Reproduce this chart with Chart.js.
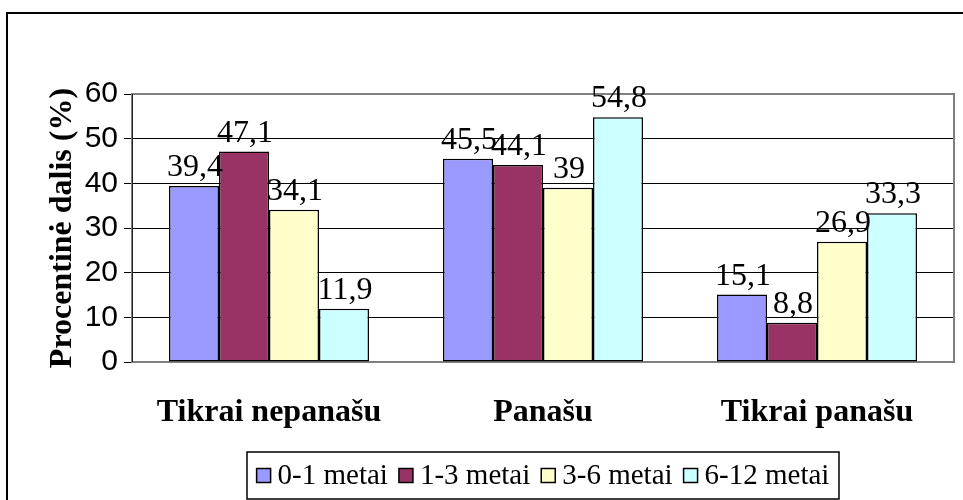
<!DOCTYPE html>
<html>
<head>
<meta charset="utf-8">
<script src="https://cdn.jsdelivr.net/npm/chart.js@4.4.0/dist/chart.umd.min.js"></script>
<style>
  html, body { margin: 0; padding: 0; background: #fff; }
  #wrap { width: 963px; height: 500px; position: relative; }
</style>
</head>
<body>
<div id="wrap"><canvas id="c" width="963" height="500"></canvas></div>
<script>
// Categories and series
const categories = ['Tikrai nepanašu', 'Panašu', 'Tikrai panašu'];
const seriesNames = ['0-1 metai', '1-3 metai', '3-6 metai', '6-12 metai'];
const age0to1 = [39.4, 45.5, 15.1];
const age1to3 = [47.1, 44.1, 8.8];
const age3to6 = [34.1, 39, 26.9];
const age6to12 = [11.9, 54.8, 33.3];
const yTicks = [0, 10, 20, 30, 40, 50, 60];

const seriesValues = [age0to1, age1to3, age3to6, age6to12];
const seriesColors = ['#9999FF', '#993366', '#FFFFCC', '#CCFFFF'];

const serif = '"Liberation Serif", "Times New Roman", serif';
const sans = '"Liberation Sans", Arial, sans-serif';

// Outer frame, plot-area box, value labels and boxed legend
const decorations = {
  id: 'decorations',
  beforeDatasetsDraw(chart) {
    const { ctx, chartArea: a } = chart;
    ctx.save();
    ctx.strokeStyle = '#808080';
    ctx.lineWidth = 2;
    ctx.strokeRect(a.left, a.top, a.right - a.left, a.bottom - a.top);
    // left value axis line
    ctx.strokeStyle = '#202020';
    ctx.lineWidth = 1;
    ctx.beginPath();
    ctx.moveTo(a.left + 0.5, a.top);
    ctx.lineTo(a.left + 0.5, a.bottom);
    ctx.stroke();
    ctx.restore();
  },
  afterDatasetsDraw(chart) {
    const { ctx } = chart;
    ctx.save();
    ctx.font = '32px ' + serif;
    ctx.fillStyle = '#000';
    ctx.textAlign = 'center';
    ctx.textBaseline = 'alphabetic';
    chart.data.datasets.forEach((ds, i) => {
      chart.getDatasetMeta(i).data.forEach((bar, j) => {
        const v = ds.data[j];
        ctx.fillText(String(v).replace('.', ','), bar.x + 1, bar.y - 10);
      });
    });
    ctx.restore();
  },
  afterDraw(chart) {
    const { ctx } = chart;
    ctx.save();
    // outer chart frame
    ctx.strokeStyle = '#000';
    ctx.lineWidth = 2;
    ctx.strokeRect(7, 13, 1000, 1000);

    // legend box
    const bx = 247, by = 452, bw = 592, bh = 47;
    ctx.lineWidth = 1.5;
    ctx.strokeRect(bx, by, bw, bh);
    ctx.font = '29px ' + serif;
    const sq = 14, gapSq = 7, gapItem = 11;
    const widths = chart.data.datasets.map(ds => sq + gapSq + ctx.measureText(ds.label).width);
    const total = widths.reduce((s, w) => s + w, 0) + gapItem * (widths.length - 1);
    let x = bx + (bw - total) / 2;
    const cy = by + bh / 2;
    ctx.textAlign = 'left';
    ctx.textBaseline = 'middle';
    chart.data.datasets.forEach((ds, i) => {
      ctx.fillStyle = ds.backgroundColor;
      ctx.fillRect(x, cy - sq / 2, sq, sq);
      ctx.strokeStyle = '#000';
      ctx.lineWidth = 1.5;
      ctx.strokeRect(x, cy - sq / 2, sq, sq);
      ctx.fillStyle = '#000';
      ctx.fillText(ds.label, x + sq + gapSq, cy + 1);
      x += widths[i] + gapItem;
    });
    ctx.restore();
  }
};

new Chart(document.getElementById('c'), {
  type: 'bar',
  data: {
    labels: categories,
    datasets: seriesNames.map((name, i) => ({
      label: name,
      data: seriesValues[i],
      backgroundColor: seriesColors[i],
      borderColor: '#000',
      borderWidth: 1.5,
      borderSkipped: false,
      barPercentage: 1,
      categoryPercentage: 0.73
    }))
  },
  options: {
    responsive: false,
    animation: false,
    devicePixelRatio: 1,
    layout: { padding: { left: 40, right: 9, top: 94, bottom: 58 } },
    plugins: {
      legend: { display: false },
      tooltip: { enabled: false }
    },
    scales: {
      x: {
        grid: { display: false, drawTicks: false },
        border: { display: false },
        ticks: {
          color: '#000',
          font: { family: serif, size: 32, weight: 'bold' },
          padding: 32,
          maxRotation: 0
        },
        afterFit(scale) { scale.height = 80; }
      },
      y: {
        min: 0,
        max: 60,
        afterBuildTicks(scale) { scale.ticks = yTicks.map(v => ({ value: v })); },
        grid: {
          color: ctx => (ctx.tick && (ctx.tick.value === 0 || ctx.tick.value === 60)) ? 'rgba(0,0,0,0)' : '#000',
          tickColor: '#000',
          tickLength: 8,
          lineWidth: 1
        },
        border: { display: false },
        ticks: {
          color: '#000',
          font: { family: sans, size: 30 },
          padding: 6
        },
        title: {
          display: true,
          text: 'Procentinė dalis (%)',
          color: '#000',
          font: { family: serif, size: 32, weight: 'bold' },
          padding: { top: 4, bottom: 0 }
        },
        afterFit(scale) { scale.width = 92; }
      }
    }
  },
  plugins: [decorations]
});
</script>
</body>
</html>
